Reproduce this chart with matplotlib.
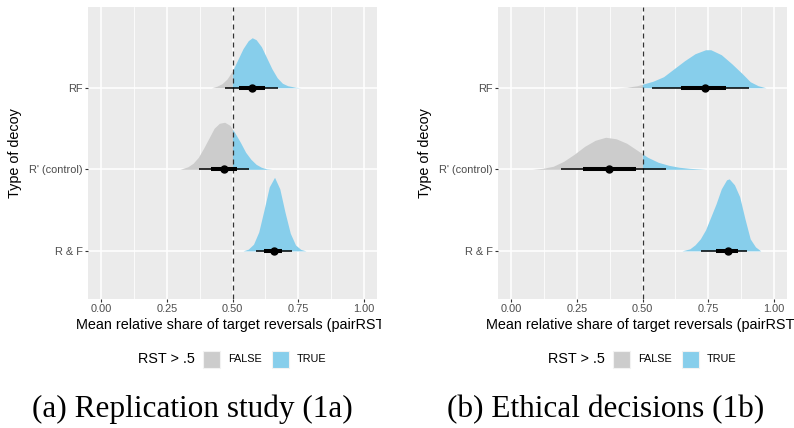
import numpy as np
import matplotlib
matplotlib.use("Agg")
import matplotlib.pyplot as plt
from matplotlib.patches import Rectangle
from matplotlib.transforms import Bbox, TransformedBbox

plt.rcParams['font.family'] = ['Liberation Sans', 'DejaVu Sans']

# rows from bottom to top
decoys = ["R & F", "R' (control)", "RF"]
x_ticks = [0.0, 0.25, 0.5, 0.75, 1.0]
x_ticklabels = ["0.00", "0.25", "0.50", "0.75", "1.00"]
legend_title = "RST > .5"
legend_labels = ["FALSE", "TRUE"]
captions = ["(a) Replication study (1a)", "(b) Ethical decisions (1b)"]
x_title = "Mean relative share of target reversals (pairRST)"
y_title = "Type of decoy"

# density outlines (value, height in row units)
rep_rf_x = [0.42, 0.44, 0.46, 0.48, 0.50, 0.52, 0.54, 0.56, 0.575, 0.59, 0.61, 0.63, 0.65, 0.67, 0.69, 0.71, 0.74, 0.76]
rep_rf_h = [0, .018, .049, .110, .209, .344, .479, .577, .613, .589, .503, .368, .233, .123, .055, .025, .006, 0]
rep_ctl_x = [0.30, 0.33, 0.35, 0.37, 0.39, 0.41, 0.43, 0.45, 0.47, 0.49, 0.51, 0.53, 0.55, 0.57, 0.59, 0.61, 0.63, 0.65]
rep_ctl_h = [0, .031, .074, .147, .258, .380, .503, .564, .577, .540, .442, .331, .209, .123, .061, .025, .006, 0]
rep_rf2_x = [0.54, 0.56, 0.58, 0.60, 0.62, 0.64, 0.66, 0.68, 0.70, 0.72, 0.74, 0.76, 0.78]
rep_rf2_h = [0, .021, .082, .233, .503, .785, .902, .761, .472, .216, .072, .018, 0]

eth_rf_x = [0.40, 0.44, 0.48, 0.50, 0.54, 0.58, 0.62, 0.66, 0.70, 0.74, 0.76, 0.80, 0.84, 0.88, 0.91, 0.94, 0.97]
eth_rf_h = [0, .006, .025, .043, .080, .135, .233, .331, .417, .466, .466, .405, .294, .172, .074, .025, 0]
eth_ctl_x = [0.08, 0.12, 0.16, 0.20, 0.24, 0.28, 0.32, 0.36, 0.40, 0.44, 0.48, 0.52, 0.56, 0.60, 0.64, 0.68, 0.74]
eth_ctl_h = [0, .012, .037, .098, .184, .282, .356, .393, .374, .319, .233, .147, .086, .049, .025, .012, 0]
eth_rf2_x = [0.65, 0.68, 0.70, 0.72, 0.74, 0.76, 0.78, 0.80, 0.82, 0.83, 0.85, 0.87, 0.89, 0.91, 0.93, 0.95]
eth_rf2_h = [0, .025, .074, .147, .258, .417, .577, .761, .871, .883, .810, .663, .393, .147, .049, 0]

# point + intervals, order: R & F, R' (control), RF
rep_median = [0.659, 0.466, 0.573]
rep_lo66 = [0.621, 0.418, 0.526]
rep_hi66 = [0.690, 0.517, 0.624]
rep_lo95 = [0.589, 0.371, 0.472]
rep_hi95 = [0.725, 0.564, 0.675]

eth_median = [0.825, 0.372, 0.739]
eth_lo66 = [0.778, 0.273, 0.646]
eth_hi66 = [0.863, 0.475, 0.817]
eth_lo95 = [0.724, 0.188, 0.538]
eth_hi95 = [0.899, 0.590, 0.904]

GREY = '#CCCCCC'
BLUE = '#87CEEB'
BG = '#EBEBEB'
W, H = 794, 428

fig = plt.figure(figsize=(W / 100, H / 100), dpi=100)


def px(x, y):
    return x / W, (H - y) / H


def draw_panel(left_px, dens, med, lo66, hi66, lo95, hi95):
    ax = fig.add_axes([left_px / W, (H - 299) / H, 289 / W, 292 / H])
    ax.set_facecolor(BG)
    for s in ax.spines.values():
        s.set_visible(False)
    ax.set_xlim(-0.05, 1.05)
    ax.set_ylim(0.41, 3.99)
    ax.set_xticks(x_ticks)
    ax.set_xticklabels(x_ticklabels)
    ax.set_xticks([0.125, 0.375, 0.625, 0.875], minor=True)
    ax.set_yticks([1, 2, 3])
    ax.set_yticklabels(decoys)
    ax.tick_params(axis='both', which='major', length=2.2, width=0.8, color='#333333',
                   labelsize=7.9, labelcolor='#4D4D4D', pad=1.5)
    ax.tick_params(axis='x', which='minor', length=0)
    ax.grid(which='major', color='white', linewidth=1.1)
    ax.grid(which='minor', axis='x', color='white', linewidth=0.55)
    ax.set_axisbelow(True)

    for i, (xv, hv) in enumerate(dens):
        base = i + 1
        xs = np.linspace(xv[0], xv[-1], 400)
        hs = np.interp(xs, xv, hv)
        ax.fill_between(xs, base, base + hs, where=xs <= 0.5, color=GREY,
                        linewidth=0, interpolate=True, zorder=2)
        ax.fill_between(xs, base, base + hs, where=xs >= 0.5, color=BLUE,
                        linewidth=0, interpolate=True, zorder=2)

    ax.axvline(0.5, color='#333333', linewidth=0.9, dashes=(4, 3.2), zorder=3)

    for i in range(3):
        base = i + 1
        ax.plot([lo95[i], hi95[i]], [base, base], color='black', linewidth=1.1,
                solid_capstyle='butt', zorder=4)
        ax.plot([lo66[i], hi66[i]], [base, base], color='black', linewidth=2.9,
                solid_capstyle='butt', zorder=4)
        ax.plot(med[i], base, 'o', color='black', markersize=5.0, zorder=5)
    return ax


ax1 = draw_panel(88, [(rep_rf2_x, rep_rf2_h), (rep_ctl_x, rep_ctl_h), (rep_rf_x, rep_rf_h)],
                 rep_median, rep_lo66, rep_hi66, rep_lo95, rep_hi95)
ax2 = draw_panel(498, [(eth_rf2_x, eth_rf2_h), (eth_ctl_x, eth_ctl_h), (eth_rf_x, eth_rf_h)],
                 eth_median, eth_lo66, eth_hi66, eth_lo95, eth_hi95)

for centre, ylab_x, clip_right, cap_x, cap in [(232.5, 15, 381, 192, captions[0]),
                                             (642.5, 425, 794, 606, captions[1])]:
    # the sub-figures are cropped, so the axis title is cut at the right edge
    t = fig.text(*px(centre, 325), x_title, ha='center', va='center', size=10.4)
    t.set_clip_box(TransformedBbox(Bbox.from_extents(0, 0, clip_right / W, 1), fig.transFigure))
    t.set_clip_on(True)
    fig.text(*px(ylab_x, 153), y_title, rotation=90, ha='center', va='center', size=10.4)

    # legend
    fig.text(*px(centre - 95, 359), legend_title, ha='left', va='center', size=10.4)
    for k, (col, lab) in enumerate(zip([GREY, BLUE], legend_labels)):
        kx = centre - 29.5 + k * 69
        fig.patches.append(Rectangle(px(kx, 367.5), 17 / W, 17 / H, facecolor=col,
                                     edgecolor='#F2F2F2', linewidth=0.8,
                                     transform=fig.transFigure, figure=fig))
        fig.text(*px(kx + 25, 359), lab, ha='left', va='center', size=7.8)

    fig.text(*px(cap_x, 417), cap, ha='center', va='baseline', size=22.5,
             family='Liberation Serif')

fig.savefig('out.png', dpi=100, facecolor='white')
